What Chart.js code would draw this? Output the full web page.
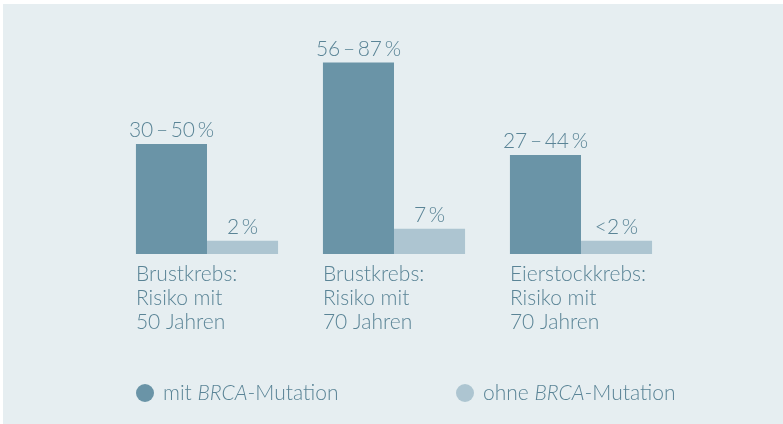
<!DOCTYPE html>
<html>
<head>
<meta charset="utf-8">
<script src="https://cdn.jsdelivr.net/npm/chart.js@4/dist/chart.umd.min.js"></script>
<style>
  html, body { margin: 0; padding: 0; background: #fff; }
  #wrap { position: absolute; left: 3px; top: 4px; width: 780px; height: 420px; background: #e6eef1; }
</style>
</head>
<body>
<div id="wrap"><canvas id="myChart" width="780" height="420"></canvas></div>
<script>
const categories = [
    ['Brustkrebs:', 'Risiko mit', '50 Jahren'],
    ['Brustkrebs:', 'Risiko mit', '70 Jahren'],
    ['Eierstockkrebs:', 'Risiko mit', '70 Jahren']
];
const seriesNames = ['mit BRCA-Mutation', 'ohne BRCA-Mutation'];
const withBrca = [50, 87, 45];
const withoutBrca = [6, 11.5, 6];
const withBrcaLabels = ['30\u2009\u2013\u200950\u2009%', '56\u2009\u2013\u200987\u2009%', '27\u2009\u2013\u200944\u2009%'];
const withoutBrcaLabels = ['2\u2009%', '7\u2009%', '<2\u2009%'];

const textColor = '#5a8496';
const fontFamily = 'Lato, "Open Sans", sans-serif';
const fontSize = 21;

const labelPlugin = {
    id: 'labelPlugin',
    afterDatasetsDraw(chart) {
        const { ctx } = chart;
        const valueLabels = [withBrcaLabels, withoutBrcaLabels];
        ctx.save();
        ctx.fillStyle = textColor;
        ctx.font = '300 ' + fontSize + 'px ' + fontFamily;
        ctx.textBaseline = 'alphabetic';

        // values above the bars
        ctx.textAlign = 'center';
        chart.data.datasets.forEach((ds, i) => {
            chart.getDatasetMeta(i).data.forEach((bar, j) => {
                ctx.fillText(valueLabels[i][j], bar.x, bar.y - 7);
            });
        });

        // category text under the first bar of each group
        ctx.textAlign = 'left';
        const base = chart.scales.y.getPixelForValue(0);
        chart.getDatasetMeta(0).data.forEach((bar, j) => {
            const left = bar.x - bar.width / 2;
            categories[j].forEach((line, k) => {
                ctx.fillText(line, left, base + 27 + k * 24);
            });
        });

        // legend with italic BRCA
        const legendX = [145, 465];
        chart.data.datasets.forEach((ds, i) => {
            const cx = legendX[i] - 3;
            const cy = 389;
            ctx.fillStyle = ds.backgroundColor;
            ctx.beginPath();
            ctx.arc(cx, cy, 9, 0, Math.PI * 2);
            ctx.fill();
            ctx.fillStyle = textColor;
            let x = cx + 18;
            ds.label.split(/(BRCA)/).forEach(part => {
                ctx.font = (part === 'BRCA' ? 'italic ' : '') + '300 ' + fontSize + 'px ' + fontFamily;
                ctx.fillText(part, x, cy + 7);
                x += ctx.measureText(part).width;
            });
        });
        ctx.restore();
    }
};

new Chart(document.getElementById('myChart'), {
    type: 'bar',
    data: {
        labels: categories,
        datasets: [{
            label: seriesNames[0],
            data: withBrca,
            backgroundColor: '#6a94a7'
        }, {
            label: seriesNames[1],
            data: withoutBrca,
            backgroundColor: '#adc5d1'
        }]
    },
    options: {
        responsive: false,
        animation: false,
        layout: {
            padding: { left: 110.5, right: 108.5, top: 30, bottom: 170 }
        },
        datasets: {
            bar: { barPercentage: 1, categoryPercentage: 0.76 }
        },
        scales: {
            x: { display: false },
            y: { display: false, min: 0, max: 100 }
        },
        plugins: {
            legend: { display: false },
            tooltip: { enabled: false }
        }
    },
    plugins: [labelPlugin]
});
</script>
</body>
</html>
